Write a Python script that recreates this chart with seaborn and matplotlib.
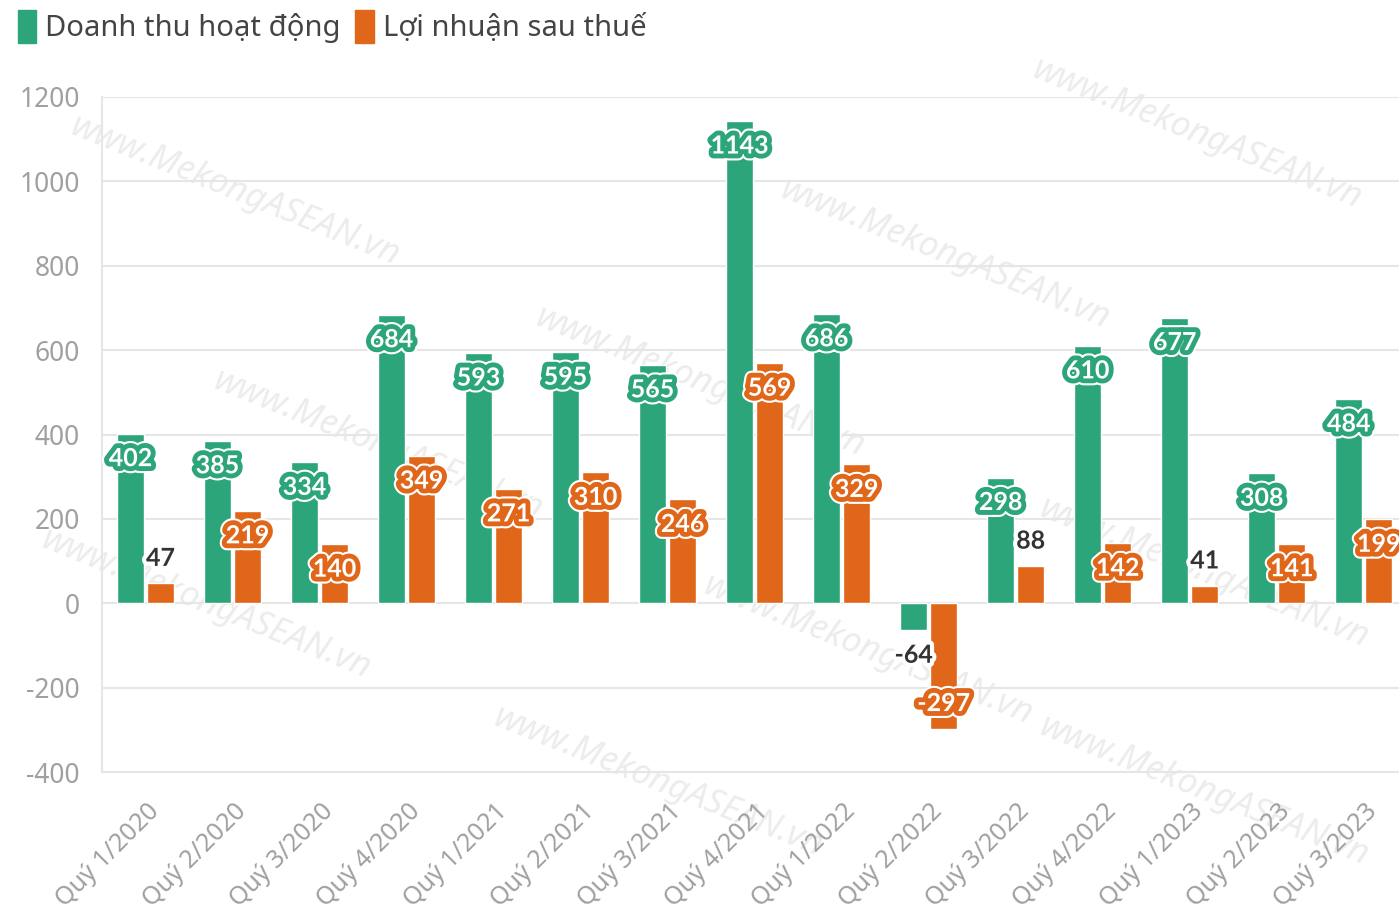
import matplotlib
matplotlib.use("Agg")
import matplotlib.pyplot as plt
import matplotlib.patheffects as pe
import matplotlib.transforms as mtrans
from matplotlib.patches import Patch
import seaborn as sns
import pandas as pd

categories = ["Quý 1/2020", "Quý 2/2020", "Quý 3/2020", "Quý 4/2020",
              "Quý 1/2021", "Quý 2/2021", "Quý 3/2021", "Quý 4/2021",
              "Quý 1/2022", "Quý 2/2022", "Quý 3/2022", "Quý 4/2022",
              "Quý 1/2023", "Quý 2/2023", "Quý 3/2023"]
revenue = [402, 385, 334, 684, 593, 595, 565, 1143, 686, -64, 298, 610, 677, 308, 484]
profit = [47, 219, 140, 349, 271, 310, 246, 569, 329, -297, 88, 142, 41, 141, 199]
series_names = ["Doanh thu hoạt động", "Lợi nhuận sau thuế"]
yticks = [-400, -200, 0, 200, 400, 600, 800, 1000, 1200]
watermark = "www.MekongASEAN.vn"

GREEN = "#2ca57a"
ORANGE = "#e0661a"
GRID = "#e6e6e6"
TICKC = "#a0a0a0"

sns.set_style("white")
plt.rcParams["font.family"] = ["Noto Sans", "DejaVu Sans"]

df = pd.DataFrame({
    "cat": categories * 2,
    "value": revenue + profit,
    "series": [series_names[0]] * len(categories) + [series_names[1]] * len(categories),
})

fig = plt.figure(figsize=(13.99, 9.09), dpi=100)
ax = fig.add_axes([0.0729, 0.1507, 0.933, 0.7426])
ax.patch.set_alpha(0)

# faint watermarks (figure fraction centres), kept fully inside the canvas
wm_pos = [(0.168, 0.79), (0.855, 0.852), (0.675, 0.72), (0.50, 0.58),
          (0.147, 0.335), (0.62, 0.285), (0.47, 0.14), (0.27, 0.51),
          (0.86, 0.37), (0.86, 0.13)]
for (wx, wy) in wm_pos:
    fig.text(wx, wy, watermark, rotation=-22, ha="center", va="center", fontsize=25,
             color="#ececec", style="italic", zorder=-5)

sns.barplot(data=df, x="cat", y="value", hue="series", order=categories,
            hue_order=series_names, palette=[GREEN, ORANGE], width=0.69, gap=0.1,
            saturation=1, legend=False, ax=ax, zorder=3)

ax.set_ylim(-400, 1200)
ax.set_xlim(-0.5, len(categories) - 0.5)
ax.set_yticks(yticks)
ax.set_yticklabels([str(v) for v in yticks])
ax.grid(axis="y", color=GRID, lw=1.5, zorder=0)
ax.grid(axis="x", visible=False)
ax.set_xlabel("")
ax.set_ylabel("")
for s in ["top", "right"]:
    ax.spines[s].set_visible(False)
ax.spines["left"].set_color(GRID)
ax.spines["left"].set_linewidth(1.5)
ax.spines["bottom"].set_color(GRID)
ax.spines["bottom"].set_linewidth(1.5)
ax.tick_params(axis="y", length=12, width=1.5, color=GRID, labelcolor=TICKC, labelsize=19, pad=4)
ax.tick_params(axis="x", length=12, width=1.5, color=GRID, labelcolor=TICKC, labelsize=18, pad=12)
ax.set_xticks(range(len(categories)))
ax.set_xticklabels(categories, rotation=45, ha="right", va="center", rotation_mode="anchor")
shift = mtrans.ScaledTranslation(10 / 100, -2 / 100, fig.dpi_scale_trans)
for lab in ax.get_xticklabels():
    lab.set_transform(lab.get_transform() + shift)

LABEL_FONT = ["Lato", "Noto Sans", "DejaVu Sans"]
colors = [GREEN, ORANGE]
for cont, col in zip(ax.containers, colors):
    for bar in cont:
        v = bar.get_height()
        x = bar.get_x() + bar.get_width() / 2
        if abs(v) < 100:
            off = 18 if v >= 0 else -18
            ax.annotate(f"{int(round(v))}", (x, v), xytext=(0, off), textcoords="offset points",
                        ha="center", va="center", fontsize=18, fontweight="bold", color="#333333",
                        family=LABEL_FONT, zorder=6,
                        path_effects=[pe.Stroke(linewidth=6, foreground="white"), pe.Normal()])
        else:
            off = -18 if v >= 0 else 18
            ax.annotate(f"{int(round(v))}", (x, v), xytext=(0, off), textcoords="offset points",
                        ha="center", va="center", fontsize=18, fontweight="bold", color="white",
                        family=LABEL_FONT, zorder=6,
                        path_effects=[pe.Stroke(linewidth=10, foreground="white"),
                                      pe.Stroke(linewidth=7, foreground=col),
                                      pe.Normal()])

handles = [Patch(facecolor=GREEN, edgecolor=GREEN, label=series_names[0]),
           Patch(facecolor=ORANGE, edgecolor=ORANGE, label=series_names[1])]
fig.legend(handles=handles, loc="upper left", bbox_to_anchor=(0.0, 1.008), ncol=2, frameon=False,
           fontsize=21, handlelength=0.65, handleheight=1.35, handletextpad=0.3, columnspacing=0.5,
           labelcolor="#444444", borderaxespad=0.2)

fig.savefig("out.png", dpi=100, facecolor="white")
